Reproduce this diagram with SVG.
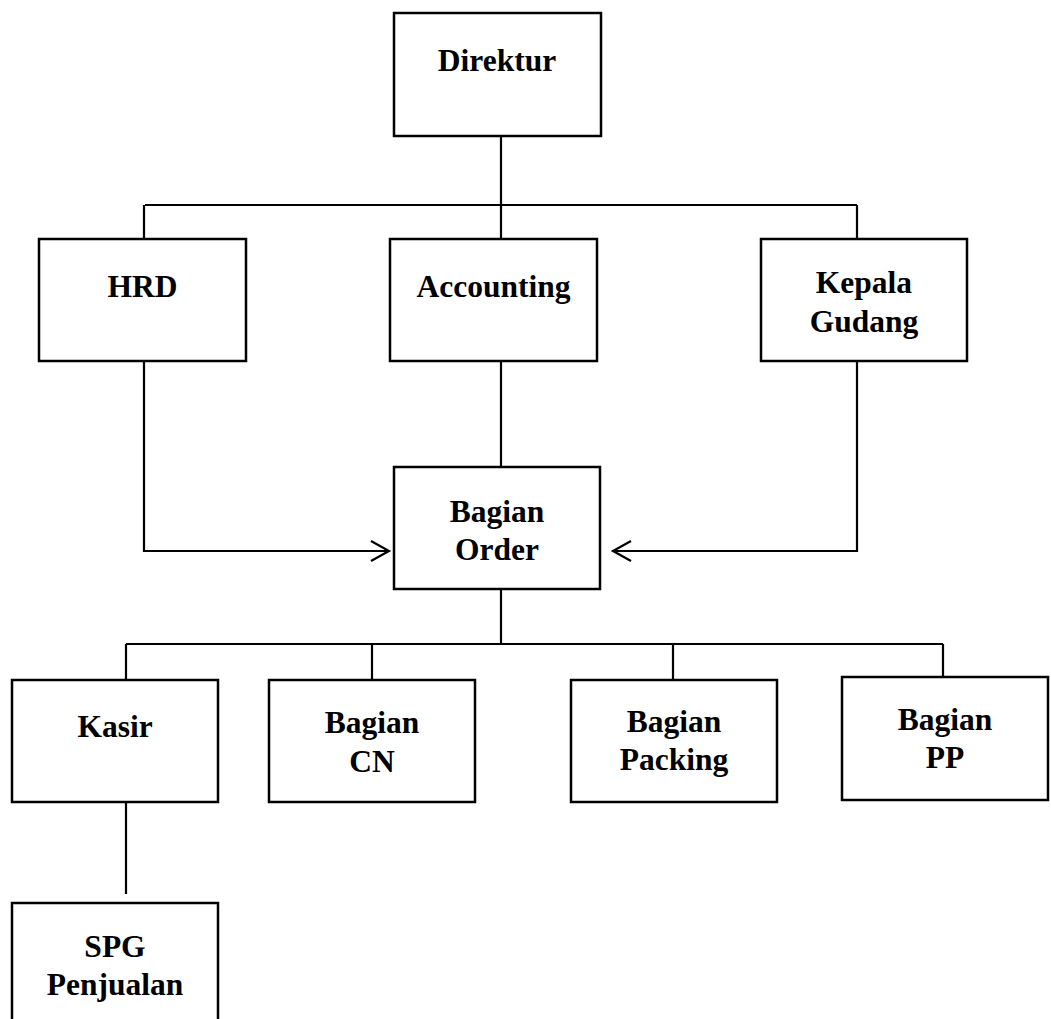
<svg xmlns="http://www.w3.org/2000/svg" width="1051" height="1019" viewBox="0 0 1051 1019">
<style>
.box{fill:#fff;stroke:#000;stroke-width:2.5}
.lbl{font-family:"Liberation Serif","Times New Roman",serif;font-weight:bold;font-size:31.5px;text-anchor:middle;fill:#000}
.ln{fill:none;stroke:#000;stroke-width:2.2}
</style>
<defs>
<marker id="arr" markerUnits="userSpaceOnUse" markerWidth="24" markerHeight="24" viewBox="-20 -12 24 24" refX="0" refY="0" orient="auto">
<path d="M-18,-10 L0,0 L-18,10" fill="none" stroke="#000" stroke-width="2.2"/>
</marker>
</defs>
<rect width="1051" height="1019" fill="#fff"/>
<g id="connectors">
<path class="ln" d="M501,136 V205 M145,205 H857 M144,205 V239 M501,205 V239 M857,205 V239"/>
<path class="ln" d="M501,361 V467"/>
<path class="ln" d="M144,361 V551 H389" marker-end="url(#arr)"/>
<path class="ln" d="M857,361 V551 H613" marker-end="url(#arr)"/>
<path class="ln" d="M501,589 V644 M126,644 H943 M126,644 V680 M372,644 V680 M673,644 V680 M943,644 V677"/>
<path class="ln" d="M126,802 V894"/>
</g>
<g id="direktur"><rect class="box" x="394" y="13" width="207" height="123"/><text class="lbl" x="497" y="71">Direktur</text></g>
<g id="hrd"><rect class="box" x="39" y="239" width="207" height="122"/><text class="lbl" x="142.5" y="297">HRD</text></g>
<g id="accounting"><rect class="box" x="390" y="239" width="207" height="122"/><text class="lbl" x="493.5" y="297">Accounting</text></g>
<g id="kepala-gudang"><rect class="box" x="761" y="239" width="206" height="122"/><text class="lbl" x="864" y="293">Kepala</text><text class="lbl" x="864" y="332">Gudang</text></g>
<g id="bagian-order"><rect class="box" x="394" y="467" width="206" height="122"/><text class="lbl" x="497" y="522">Bagian</text><text class="lbl" x="497" y="560">Order</text></g>
<g id="kasir"><rect class="box" x="12" y="680" width="206" height="122"/><text class="lbl" x="115" y="737">Kasir</text></g>
<g id="bagian-cn"><rect class="box" x="269" y="680" width="206" height="122"/><text class="lbl" x="372" y="733">Bagian</text><text class="lbl" x="372" y="772">CN</text></g>
<g id="bagian-packing"><rect class="box" x="571" y="680" width="206" height="122"/><text class="lbl" x="674" y="732">Bagian</text><text class="lbl" x="674" y="770">Packing</text></g>
<g id="bagian-pp"><rect class="box" x="842" y="677" width="206" height="123"/><text class="lbl" x="945" y="730">Bagian</text><text class="lbl" x="945" y="768">PP</text></g>
<g id="spg-penjualan"><rect class="box" x="12" y="903" width="206" height="130"/><text class="lbl" x="115" y="957">SPG</text><text class="lbl" x="115" y="995">Penjualan</text></g>
</svg>
